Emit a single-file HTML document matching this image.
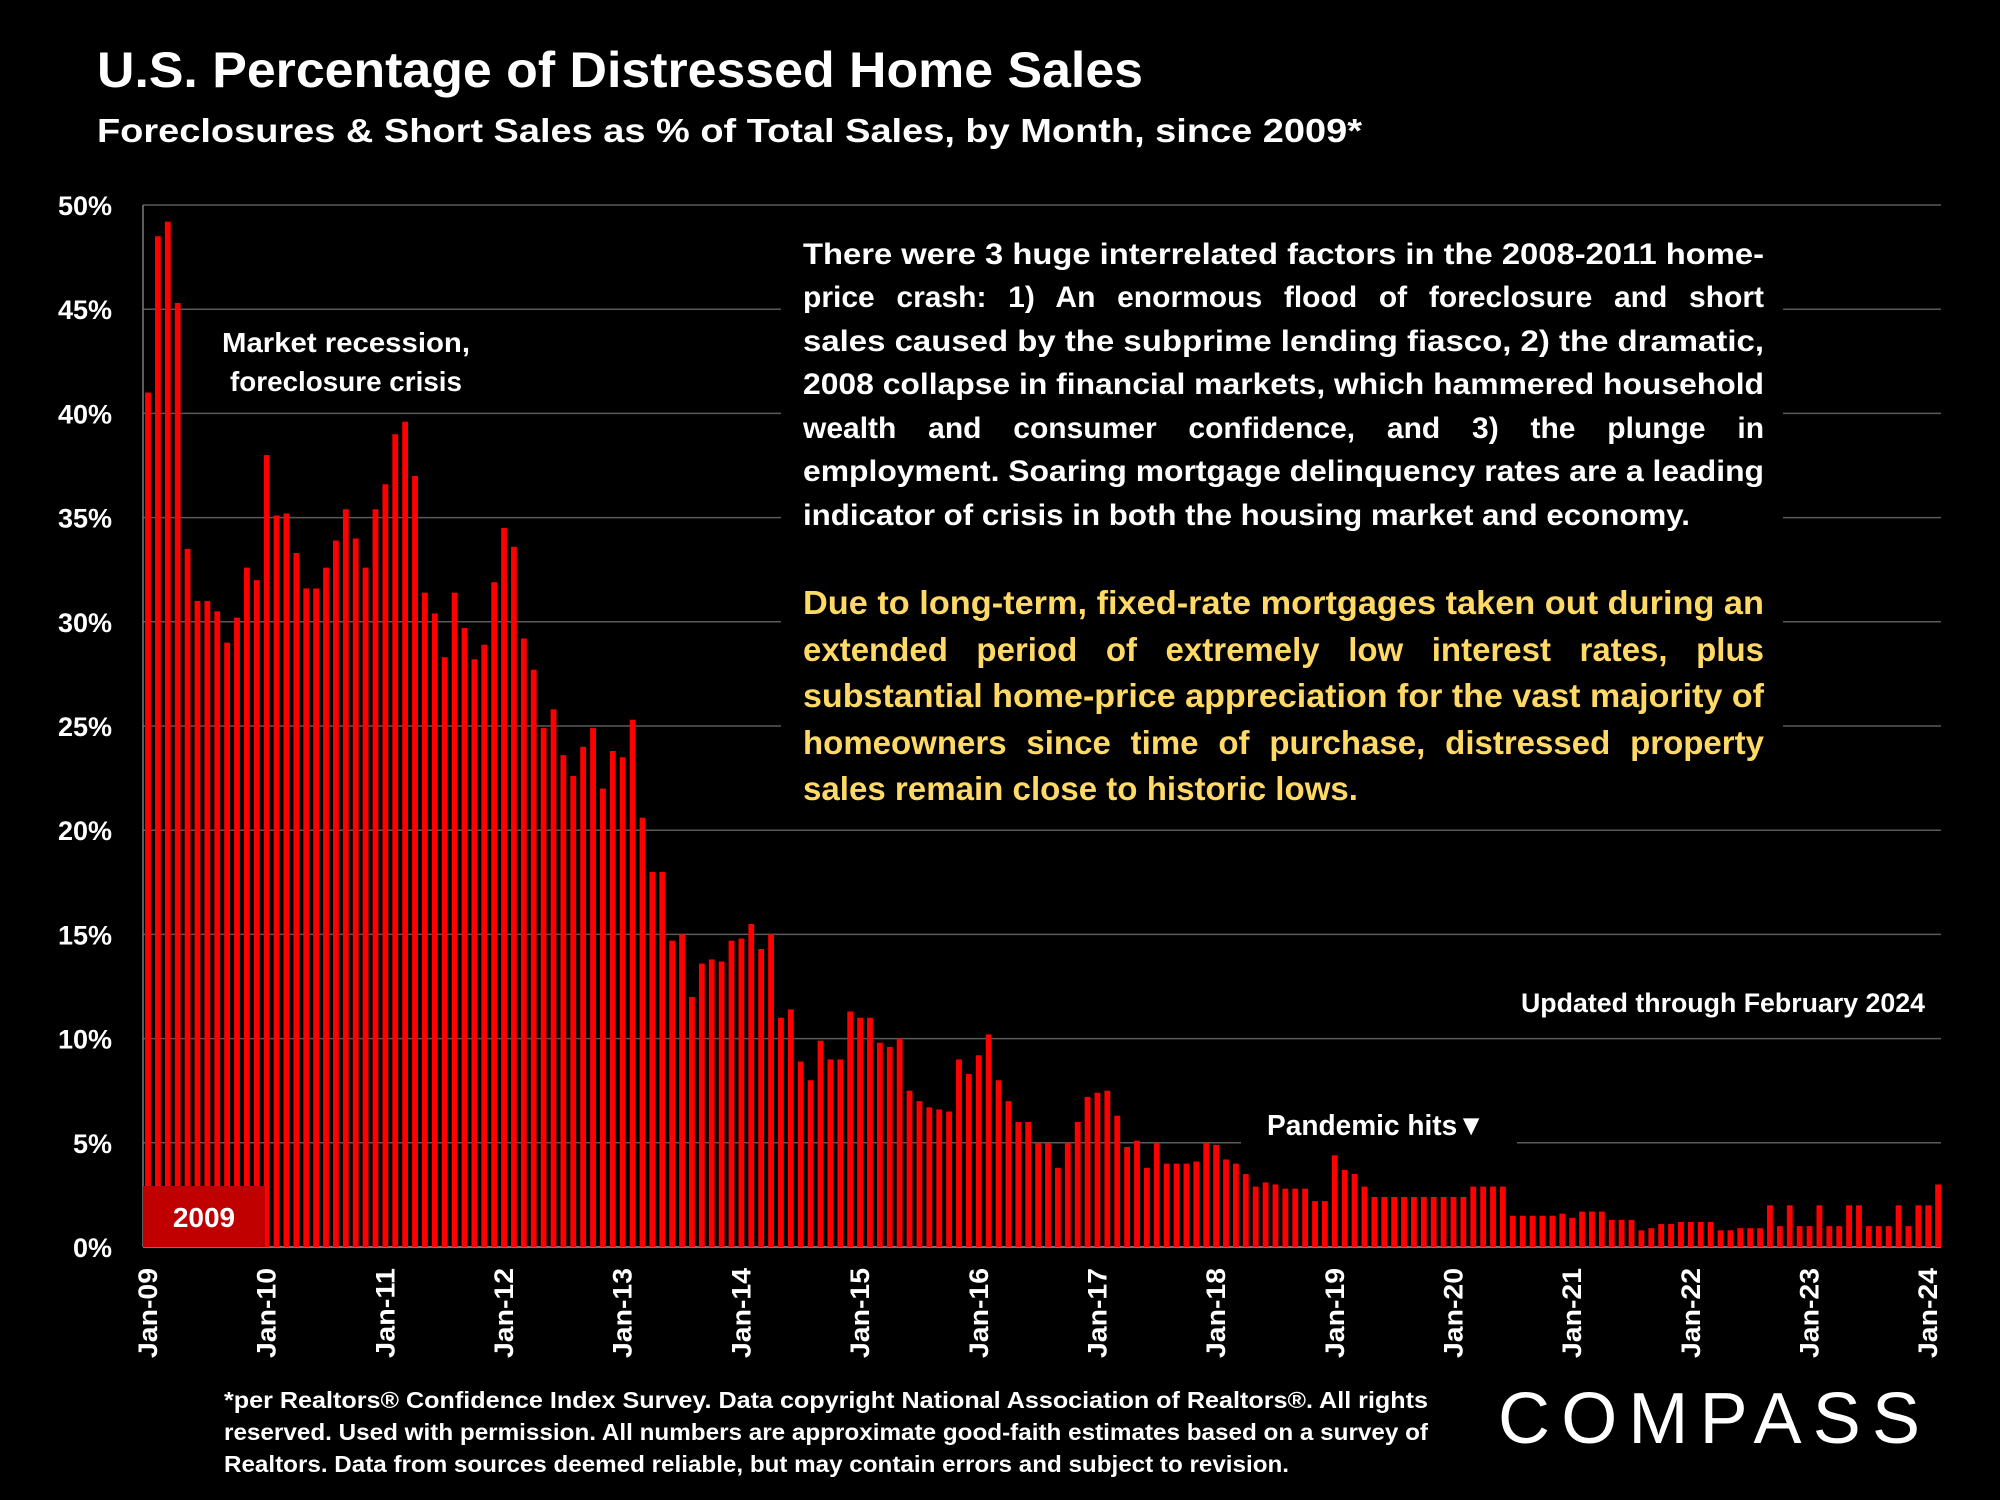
<!DOCTYPE html>
<html><head><meta charset="utf-8"><style>
html,body{margin:0;padding:0;background:#000;}
svg{display:block;}
text{font-family:"Liberation Sans",sans-serif;font-weight:bold;fill:#fff;}
</style></head><body>
<svg id="chart" width="2000" height="1500" viewBox="0 0 2000 1500" xmlns="http://www.w3.org/2000/svg">
<rect x="0" y="0" width="2000" height="1500" fill="#000"/>
<text x="97" y="87" font-size="50" textLength="1046" lengthAdjust="spacingAndGlyphs">U.S. Percentage of Distressed Home Sales</text>
<text x="97" y="142" font-size="33" textLength="1265" lengthAdjust="spacingAndGlyphs">Foreclosures &amp; Short Sales as % of Total Sales, by Month, since 2009*</text>
<g id="grid"></g>
<g id="yticks"></g>
<g id="bars"></g>
<g id="xticks"></g>
<rect x="143" y="1186" width="122" height="61" fill="#c00000"/>
<text x="204" y="1227" font-size="28" text-anchor="middle">2009</text>
<text x="346" y="352" font-size="28" text-anchor="middle" textLength="248" lengthAdjust="spacingAndGlyphs">Market recession,</text>
<text x="346" y="391" font-size="28" text-anchor="middle" textLength="232" lengthAdjust="spacingAndGlyphs">foreclosure crisis</text>
<rect x="781" y="228" width="1002" height="590" fill="#000"/>
<g>
<text class="tight" data-w="961" x="803" y="264" font-size="30">There were 3 huge interrelated factors in the 2008-2011 home-</text>
<text class="loose" data-w="961" x="803" y="307" font-size="30">price crash: 1) An enormous flood of foreclosure and short</text>
<text class="tight" data-w="961" x="803" y="351" font-size="30">sales caused by the subprime lending fiasco, 2) the dramatic,</text>
<text class="tight" data-w="961" x="803" y="394" font-size="30">2008 collapse in financial markets, which hammered household</text>
<text class="loose" data-w="961" x="803" y="438" font-size="30">wealth and consumer confidence, and 3) the plunge in</text>
<text class="tight" data-w="961" x="803" y="481" font-size="30">employment. Soaring mortgage delinquency rates are a leading</text>
<text class="tight" data-w="887" x="803" y="525" font-size="30">indicator of crisis in both the housing market and economy.</text>
</g>
<g>
<text class="tight" data-w="961" x="803" y="614" font-size="33" style="fill:#ffd966">Due to long-term, fixed-rate mortgages taken out during an</text>
<text class="loose" data-w="961" x="803" y="661" font-size="33" style="fill:#ffd966">extended period of extremely low interest rates, plus</text>
<text class="tight" data-w="961" x="803" y="707" font-size="33" style="fill:#ffd966">substantial home-price appreciation for the vast majority of</text>
<text class="loose" data-w="961" x="803" y="754" font-size="33" style="fill:#ffd966">homeowners since time of purchase, distressed property</text>
<text class="tight" data-w="555" x="803" y="800" font-size="33" style="fill:#ffd966">sales remain close to historic lows.</text>
</g>
<text x="1521" y="1012" font-size="27" textLength="404" lengthAdjust="spacingAndGlyphs">Updated through February 2024</text>
<rect x="1241" y="1100" width="276" height="48" fill="#000"/>
<text x="1267" y="1135" font-size="29" textLength="218" lengthAdjust="spacingAndGlyphs">Pandemic hits▼</text>
<g>
<text x="224" y="1408" font-size="23" textLength="1204" lengthAdjust="spacingAndGlyphs">*per Realtors® Confidence Index Survey. Data copyright National Association of Realtors®. All rights</text>
<text x="224" y="1440" font-size="23" textLength="1204" lengthAdjust="spacingAndGlyphs">reserved. Used with permission. All numbers are approximate good-faith estimates based on a survey of</text>
<text x="224" y="1472" font-size="23" textLength="1065" lengthAdjust="spacingAndGlyphs">Realtors. Data from sources deemed reliable, but may contain errors and subject to revision.</text>
</g>
<text x="1498" y="1443" font-size="72" style="font-weight:normal" textLength="422" lengthAdjust="spacing">COMPASS</text>
</svg>
<script>
const startYear = 2009;
const yTicks = [0, 5, 10, 15, 20, 25, 30, 35, 40, 45, 50];
const yTickLabels = ["0%","5%","10%","15%","20%","25%","30%","35%","40%","45%","50%"];
const xTickLabels = ["Jan-09","Jan-10","Jan-11","Jan-12","Jan-13","Jan-14","Jan-15","Jan-16","Jan-17","Jan-18","Jan-19","Jan-20","Jan-21","Jan-22","Jan-23","Jan-24"];
const values2009 = [41,48.5,49.2,45.3,33.5,31,31,30.5,29,30.2,32.6,32];
const values2010 = [38,35.1,35.2,33.3,31.6,31.6,32.6,33.9,35.4,34,32.6,35.4];
const values2011 = [36.6,39,39.6,37,31.4,30.4,28.3,31.4,29.7,28.2,28.9,31.9];
const values2012 = [34.5,33.6,29.2,27.7,24.9,25.8,23.6,22.6,24,24.9,22,23.8];
const values2013 = [23.5,25.3,20.6,18,18,14.7,15,12,13.6,13.8,13.7,14.7];
const values2014 = [14.8,15.5,14.3,15,11,11.4,8.9,8,9.9,9,9,11.3];
const values2015 = [11,11,9.8,9.6,10,7.5,7,6.7,6.6,6.5,9,8.3];
const values2016 = [9.2,10.2,8,7,6,6,5,5,3.8,5,6,7.2];
const values2017 = [7.4,7.5,6.3,4.8,5.1,3.8,5,4,4,4,4.1,5];
const values2018 = [4.9,4.2,4,3.5,2.9,3.1,3,2.8,2.8,2.8,2.2,2.2];
const values2019 = [4.4,3.7,3.5,2.9,2.4,2.4,2.4,2.4,2.4,2.4,2.4,2.4];
const values2020 = [2.4,2.4,2.9,2.9,2.9,2.9,1.5,1.5,1.5,1.5,1.5,1.6];
const values2021 = [1.4,1.7,1.7,1.7,1.3,1.3,1.3,0.8,0.9,1.1,1.1,1.2];
const values2022 = [1.2,1.2,1.2,0.8,0.8,0.9,0.9,0.9,2,1,2,1];
const values2023 = [1,2,1,1,2,2,1,1,1,2,1,2];
const values2024 = [2,3];
const values = [].concat(values2009,values2010,values2011,values2012,values2013,values2014,values2015,values2016,values2017,values2018,values2019,values2020,values2021,values2022,values2023,values2024);

const NS = "http://www.w3.org/2000/svg";
const plotLeft = 143, plotRight = 1941, y0 = 1247, y50 = 205;
const firstX = 148, monthStep = 9.89, barW = 5.8;
function yScale(v){ return y0 - (v/50)*(y0-y50); }
function xScale(i){ return firstX + i*monthStep; }

const grid = document.getElementById('grid');
const yt = document.getElementById('yticks');
yTicks.forEach((t,k)=>{
  const y = yScale(t);
  const ln = document.createElementNS(NS,'line');
  ln.setAttribute('x1',plotLeft); ln.setAttribute('x2',plotRight);
  ln.setAttribute('y1',y); ln.setAttribute('y2',y);
  ln.setAttribute('stroke', t===0 ? '#9a9a9a' : '#5a5a5a'); ln.setAttribute('stroke-width','1.5');
  
  
  grid.appendChild(ln);
  const tx = document.createElementNS(NS,'text');
  tx.setAttribute('x',112); tx.setAttribute('y',y+10);
  tx.setAttribute('text-anchor','end'); tx.setAttribute('font-size','27');
  tx.textContent = yTickLabels[k];
  
  
  yt.appendChild(tx);
});
const axis = document.createElementNS(NS,'line');
axis.setAttribute('x1',plotLeft); axis.setAttribute('x2',plotLeft);
axis.setAttribute('y1',y50); axis.setAttribute('y2',y0);
axis.setAttribute('stroke','#7a7a7a'); axis.setAttribute('stroke-width','1.5');


grid.appendChild(axis);

const bars = document.getElementById('bars');
values.forEach((v,i)=>{
  const r = document.createElementNS(NS,'rect');
  const y = yScale(v);
  r.setAttribute('x', xScale(i)-barW/2); r.setAttribute('y', y);
  r.setAttribute('width', barW); r.setAttribute('height', y0-y);
  r.setAttribute('fill', '#ff0000');
  
  
  bars.appendChild(r);
});

const xt = document.getElementById('xticks');
xTickLabels.forEach((lab,k)=>{
  const x = xScale(k*12);
  const tx = document.createElementNS(NS,'text');
  tx.setAttribute('transform','translate('+(x+9)+',1268) rotate(-90)');
  tx.setAttribute('text-anchor','end'); tx.setAttribute('font-size','27');
  tx.setAttribute('textLength','90'); tx.setAttribute('lengthAdjust','spacingAndGlyphs');
  tx.textContent = lab;
  
  
  xt.appendChild(tx);
});

document.querySelectorAll('text.tight, text.loose').forEach(t=>{
  
  
  const target = +t.getAttribute('data-w');
  const natural = t.getComputedTextLength();
  const spaces = (t.textContent.match(/ /g)||[]).length;
  if (t.classList.contains('tight') || natural > target || spaces === 0) {
    t.setAttribute('textLength', target);
    t.setAttribute('lengthAdjust', 'spacingAndGlyphs');
  } else {
    t.setAttribute('word-spacing', ((target-natural)/spaces).toFixed(2));
  }
});
</script>
</body></html>
